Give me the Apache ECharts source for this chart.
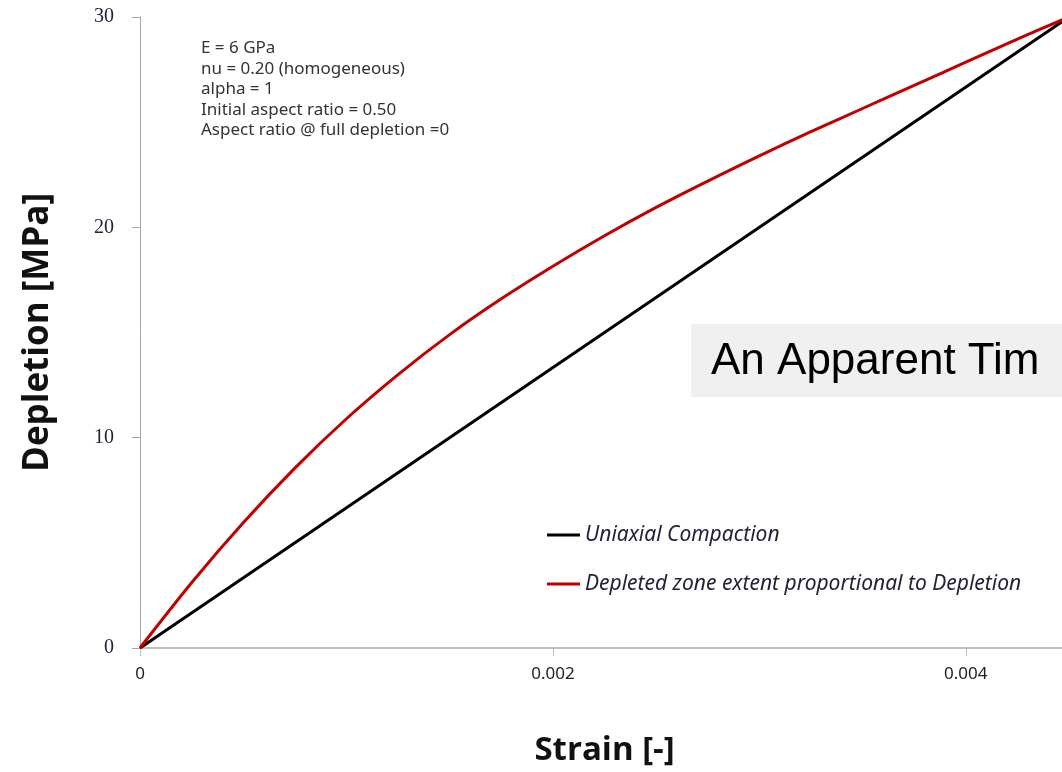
<!DOCTYPE html>
<html>
<head>
<meta charset="utf-8">
<script src="https://cdn.jsdelivr.net/npm/echarts@6/dist/echarts.min.js"></script>
<style>
html,body{margin:0;padding:0;overflow:hidden;background:#fff;}
#chart{width:1080px;height:772px;}
</style>
</head>
<body>
<div id="chart"></div>
<script>
// Data
const seriesNames = ['Uniaxial Compaction', 'Depleted zone extent proportional to Depletion'];
const uniaxialStrain = [0, 0.0045];
const uniaxialDepletion = [0, 30];
const depletedStrain = [0, 0.00025, 0.0005, 0.00075, 0.001, 0.00125, 0.0015, 0.00175, 0.002, 0.00225, 0.0025, 0.00275, 0.003, 0.00325, 0.0035, 0.00375, 0.004, 0.00425, 0.0045];
const depletedDepletion = [0, 3.1, 5.95, 8.55, 10.9, 13.0, 14.9, 16.6, 18.15, 19.6, 20.95, 22.2, 23.4, 24.55, 25.65, 26.75, 27.85, 28.95, 30];
const annotationLines = ['E = 6 GPa', 'nu = 0.20 (homogeneous)', 'alpha = 1', 'Initial aspect ratio = 0.50', 'Aspect ratio @ full depletion =0'];
const overlayText = 'An Apparent Tim';

const zip = (xs, ys) => xs.map((x, i) => [x, ys[i]]);

const chart = echarts.init(document.getElementById('chart'));
chart.setOption({
  animation: false,
  grid: { left: 140, top: 17, width: 929, height: 638 },
  xAxis: {
    type: 'value', min: 0, max: 0.0045, interval: 0.002,
    name: 'Strain [-]', nameLocation: 'middle', nameGap: 86,
    nameTextStyle: { fontFamily: 'Open Sans', fontWeight: 'bold', fontSize: 33, color: '#111' },
    axisLine: { show: true, lineStyle: { color: '#bfbfbf', width: 2 } },
    axisTick: { show: true, length: 8, lineStyle: { color: '#bfbfbf' } },
    axisLabel: { margin: 18, fontFamily: 'Noto Sans', fontSize: 17, color: '#222', showMaxLabel: false,
      formatter: v => v === 0 ? '0' : String(+v.toFixed(4)) },
    splitLine: { show: false }
  },
  yAxis: {
    type: 'value', min: 0, max: 30, interval: 10,
    name: 'Depletion [MPa]', nameLocation: 'middle', nameGap: 84, nameRotate: 90,
    nameTextStyle: { fontFamily: 'Open Sans', fontWeight: 'bold', fontSize: 35, color: '#111' },
    axisLine: { show: true, lineStyle: { color: '#a6a6a6', width: 1 } },
    axisTick: { show: true, length: 8, lineStyle: { color: '#a6a6a6' } },
    axisLabel: { margin: 26, fontFamily: 'Liberation Serif', fontSize: 20, color: '#22223a' },
    splitLine: { show: false }
  },
  legend: {
    orient: 'vertical', left: 542, top: 519,
    itemWidth: 33, itemHeight: 3, itemGap: 27, icon: 'rect',
    textStyle: { fontFamily: 'Noto Sans', fontStyle: 'italic', fontSize: 21, color: '#22223a', lineHeight: 22 },
    data: seriesNames
  },
  series: [
    { name: seriesNames[0], type: 'line', data: zip(uniaxialStrain, uniaxialDepletion),
      showSymbol: false, lineStyle: { color: '#000', width: 3 }, itemStyle: { color: '#000' } },
    { name: seriesNames[1], type: 'line', data: zip(depletedStrain, depletedDepletion), smooth: 0.3,
      showSymbol: false, lineStyle: { color: '#c00000', width: 3 }, itemStyle: { color: '#c00000' } }
  ],
  graphic: [
    { type: 'text', left: 201, top: 38,
      style: { text: annotationLines.join('\n'), fontFamily: 'Noto Sans', fontSize: 17, lineHeight: 20.5, fill: '#333' } },
    { type: 'group', left: 691, top: 324, children: [
      { type: 'rect', shape: { x: 0, y: 0, width: 400, height: 73 }, style: { fill: '#f0f0f0' } },
      { type: 'text', x: 20, y: 38, style: { text: overlayText, fontFamily: 'Liberation Sans', fontSize: 44, fill: '#000', verticalAlign: 'middle' } }
    ] }
  ]
});
</script>
</body>
</html>
